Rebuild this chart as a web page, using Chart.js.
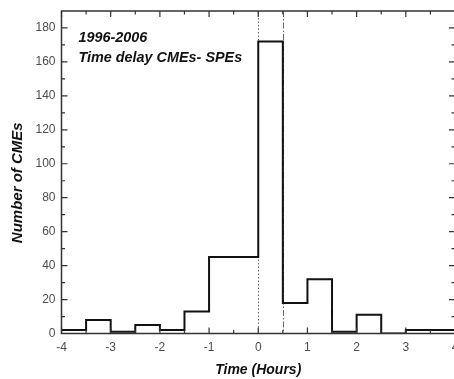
<!DOCTYPE html>
<html><head><meta charset="utf-8">
<script src="https://cdn.jsdelivr.net/npm/chart.js@4.4.0/dist/chart.umd.min.js"></script>
<style>
html,body{margin:0;padding:0;background:#fff;overflow:hidden;width:454px;height:379px}
#wrap{width:456px;height:379px;position:relative}
</style></head>
<body><div id="wrap"><canvas id="c" width="456" height="379"></canvas></div>
<script>
// Histogram of time delay CMEs - SPEs (1996-2006), 0.5 h bins
const binStarts = [-4,-3.5,-3,-2.5,-2,-1.5,-1,-0.5,0,0.5,1,1.5,2,2.5,3,3.5];
const binEnd = 4;
const counts = [2,8,1,5,2,13,45,45,172,18,32,1,11,0,2,2];
const xTicks = [-4,-3,-2,-1,0,1,2,3,4];
const xMinorTicks = [-3.5,-2.5,-1.5,-0.5,0.5,1.5,2.5,3.5];
const yTicks = [0,20,40,60,80,100,120,140,160,180];
const yMinorTicks = [10,30,50,70,90,110,130,150,170];
const refLineValues = [0, 0.5];
const annotationLines = ['1996-2006', 'Time delay CMEs- SPEs'];
const xTitle = 'Time (Hours)';
const yTitle = 'Number of CMEs';

const FONT = '"Liberation Sans", Arial, Helvetica, sans-serif';

const stepData = binStarts.map((x, i) => ({x: x, y: counts[i]}))
  .concat([{x: binEnd, y: counts[counts.length - 1]}]);

const framePlugin = {
  id: 'framePlugin',
  beforeDatasetsDraw(chart) {
    const {ctx, chartArea: a, scales: {x}} = chart;
    ctx.save();
    ctx.strokeStyle = '#666';
    ctx.lineWidth = 1;
    const dashes = [[1.5, 2], [6, 2, 1.5, 2]];
    refLineValues.forEach((v, i) => {
      const px = Math.round(x.getPixelForValue(v)) + 0.5;
      ctx.setLineDash(dashes[i % dashes.length]);
      ctx.beginPath();
      ctx.moveTo(px, a.top);
      ctx.lineTo(px, a.bottom);
      ctx.stroke();
    });
    ctx.restore();
  },
  afterDatasetsDraw(chart) {
    const {ctx, chartArea: a, scales: {x, y}} = chart;
    ctx.save();
    ctx.strokeStyle = '#333';
    ctx.lineWidth = 1.5;
    ctx.strokeRect(a.left, a.top, a.right - a.left, a.bottom - a.top);
    ctx.lineWidth = 1.2;
    ctx.beginPath();
    const major = 6, minor = 3.5;
    xTicks.forEach(v => {
      const p = x.getPixelForValue(v);
      ctx.moveTo(p, a.bottom); ctx.lineTo(p, a.bottom - major);
      ctx.moveTo(p, a.top); ctx.lineTo(p, a.top + major);
    });
    xMinorTicks.forEach(v => {
      const p = x.getPixelForValue(v);
      ctx.moveTo(p, a.bottom); ctx.lineTo(p, a.bottom - minor);
      ctx.moveTo(p, a.top); ctx.lineTo(p, a.top + minor);
    });
    yTicks.forEach(v => {
      const p = y.getPixelForValue(v);
      ctx.moveTo(a.left, p); ctx.lineTo(a.left + major, p);
      ctx.moveTo(a.right, p); ctx.lineTo(a.right - major, p);
    });
    yMinorTicks.forEach(v => {
      const p = y.getPixelForValue(v);
      ctx.moveTo(a.left, p); ctx.lineTo(a.left + minor, p);
      ctx.moveTo(a.right, p); ctx.lineTo(a.right - minor, p);
    });
    ctx.stroke();

    // annotation text
    ctx.fillStyle = '#111';
    ctx.font = 'italic bold 14.4px ' + FONT;
    ctx.textAlign = 'left';
    ctx.textBaseline = 'alphabetic';
    annotationLines.forEach((t, i) => {
      ctx.fillText(t, a.left + 17, a.top + 31 + i * 20);
    });

    // x title
    ctx.font = 'italic bold 14px ' + FONT;
    ctx.textAlign = 'center';
    ctx.textBaseline = 'middle';
    ctx.fillText(xTitle, (a.left + a.right) / 2, a.bottom + 37);

    // y title
    ctx.save();
    ctx.translate(17.5, (a.top + a.bottom) / 2 + 10.5);
    ctx.rotate(-Math.PI / 2);
    ctx.font = 'italic bold 15px ' + FONT;
    ctx.fillText(yTitle, 0, 0);
    ctx.restore();
    ctx.restore();
  }
};

new Chart(document.getElementById('c'), {
  type: 'line',
  data: {
    datasets: [{
      data: stepData,
      stepped: 'before',
      borderColor: '#111',
      borderWidth: 2,
      pointRadius: 0,
      fill: false,
      tension: 0
    }]
  },
  options: {
    responsive: false,
    animation: false,
    devicePixelRatio: 1,
    layout: {padding: {top: 11, right: 1, left: 0, bottom: 0}},
    plugins: {legend: {display: false}, tooltip: {enabled: false}},
    scales: {
      x: {
        type: 'linear', min: -4, max: 4,
        grid: {display: false, drawTicks: false},
        border: {display: false},
        afterBuildTicks: s => { s.ticks = xTicks.map(v => ({value: v})); },
        ticks: {font: {family: FONT, size: 12}, color: '#4d4d4d', padding: 7, maxRotation: 0, autoSkip: false},
        afterFit: s => { s.height = 45.5; s.paddingLeft = 0; s.paddingRight = 0; }
      },
      y: {
        type: 'linear', min: 0, max: 190,
        grid: {display: false, drawTicks: false},
        border: {display: false},
        afterBuildTicks: s => { s.ticks = yTicks.map(v => ({value: v})); },
        ticks: {font: {family: FONT, size: 12}, color: '#4d4d4d', padding: 6, includeBounds: false},
        afterFit: s => { s.width = 61.5; s.paddingTop = 0; s.paddingBottom = 0; }
      }
    }
  },
  plugins: [framePlugin]
});
</script>
</body></html>
